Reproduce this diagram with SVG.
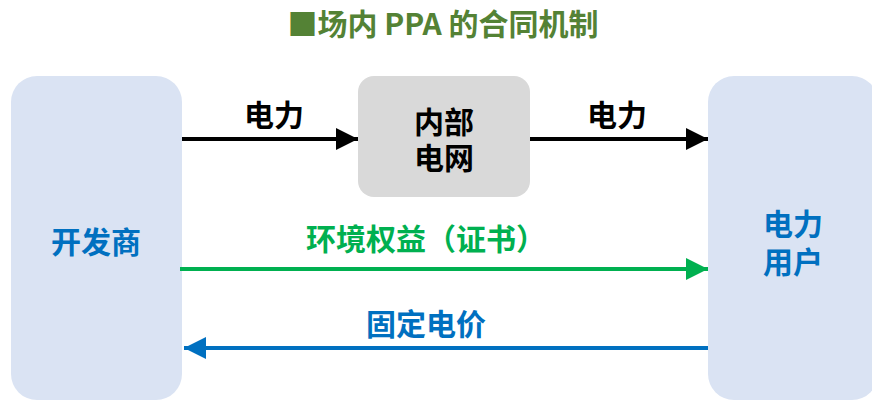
<svg xmlns="http://www.w3.org/2000/svg" width="872" height="401" viewBox="0 0 872 401">
<style>
text{font-family:"Noto Sans CJK SC","Noto Sans",sans-serif;font-weight:bold;font-size:30px;text-anchor:middle}
.side{fill:#dae3f3}
.blue{fill:#0070c0}
</style>
<defs>
<marker id="ak" markerUnits="userSpaceOnUse" markerWidth="24" markerHeight="24" refX="22" refY="11" orient="auto"><path d="M0,0 L22,11 L0,22 Z" fill="#000"/></marker>
<marker id="ag" markerUnits="userSpaceOnUse" markerWidth="24" markerHeight="24" refX="22" refY="11" orient="auto"><path d="M0,0 L22,11 L0,22 Z" fill="#00b050"/></marker>
<marker id="ab" markerUnits="userSpaceOnUse" markerWidth="24" markerHeight="24" refX="22" refY="11" orient="auto"><path d="M0,0 L22,11 L0,22 Z" fill="#0070c0"/></marker>
</defs>
<rect width="872" height="401" fill="#fff"/>
<text id="title" x="443" y="35" fill="#548235" font-size="31">■场内 PPA 的合同机制</text>
<g id="developer">
<rect class="side" x="11" y="76" width="171" height="324" rx="26"/>
<text x="96" y="253" class="blue">开发商</text>
</g>
<g id="grid">
<rect x="358" y="76" width="172" height="121" rx="16" fill="#d9d9d9"/>
<text x="444" y="133"><tspan x="444" y="133">内部</tspan><tspan x="444" y="169">电网</tspan></text>
</g>
<g id="user">
<rect class="side" x="708" y="76" width="170" height="324" rx="26"/>
<text class="blue"><tspan x="793" y="235">电力</tspan><tspan x="793" y="273">用户</tspan></text>
</g>
<g id="connectors" stroke-width="4" fill="none">
<line x1="182" y1="139" x2="358" y2="139" stroke="#000" marker-end="url(#ak)"/>
<line x1="530" y1="139" x2="708" y2="139" stroke="#000" marker-end="url(#ak)"/>
<line x1="180" y1="269" x2="708" y2="269" stroke="#00b050" marker-end="url(#ag)"/>
<line x1="708" y1="348" x2="184" y2="348" stroke="#0070c0" marker-end="url(#ab)"/>
</g>
<g id="labels">
<text x="274" y="126">电力</text>
<text x="617" y="126">电力</text>
<text x="426" y="250" fill="#00b050">环境权益（证书）</text>
<text x="426" y="335" fill="#0070c0">固定电价</text>
</g>
</svg>
